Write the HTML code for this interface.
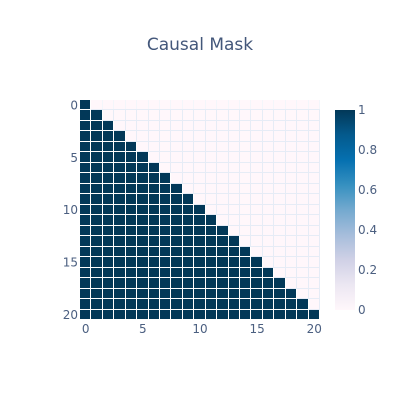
<!DOCTYPE html>
<html>
<head>
<meta charset="utf-8">
<title>Causal Mask</title>
<style>
html,body{margin:0;padding:0;background:#fff;}
svg{display:block;}
text{font-family:"DejaVu Sans","Liberation Sans",sans-serif;}
</style>
</head>
<body>
<svg id="chart" xmlns="http://www.w3.org/2000/svg" width="400" height="400" viewBox="0 0 400 400">
<rect x="0" y="0" width="400" height="400" fill="#ffffff"/>
<text x="200" y="50" text-anchor="middle" font-size="17" fill="#43577a">Causal Mask</text>
</svg>
<script>
var xCategories = [0,1,2,3,4,5,6,7,8,9,10,11,12,13,14,15,16,17,18,19,20];
var yCategories = [0,1,2,3,4,5,6,7,8,9,10,11,12,13,14,15,16,17,18,19,20];
var maskRows = [
[1,0,0,0,0,0,0,0,0,0,0,0,0,0,0,0,0,0,0,0,0],
[1,1,0,0,0,0,0,0,0,0,0,0,0,0,0,0,0,0,0,0,0],
[1,1,1,0,0,0,0,0,0,0,0,0,0,0,0,0,0,0,0,0,0],
[1,1,1,1,0,0,0,0,0,0,0,0,0,0,0,0,0,0,0,0,0],
[1,1,1,1,1,0,0,0,0,0,0,0,0,0,0,0,0,0,0,0,0],
[1,1,1,1,1,1,0,0,0,0,0,0,0,0,0,0,0,0,0,0,0],
[1,1,1,1,1,1,1,0,0,0,0,0,0,0,0,0,0,0,0,0,0],
[1,1,1,1,1,1,1,1,0,0,0,0,0,0,0,0,0,0,0,0,0],
[1,1,1,1,1,1,1,1,1,0,0,0,0,0,0,0,0,0,0,0,0],
[1,1,1,1,1,1,1,1,1,1,0,0,0,0,0,0,0,0,0,0,0],
[1,1,1,1,1,1,1,1,1,1,1,0,0,0,0,0,0,0,0,0,0],
[1,1,1,1,1,1,1,1,1,1,1,1,0,0,0,0,0,0,0,0,0],
[1,1,1,1,1,1,1,1,1,1,1,1,1,0,0,0,0,0,0,0,0],
[1,1,1,1,1,1,1,1,1,1,1,1,1,1,0,0,0,0,0,0,0],
[1,1,1,1,1,1,1,1,1,1,1,1,1,1,1,0,0,0,0,0,0],
[1,1,1,1,1,1,1,1,1,1,1,1,1,1,1,1,0,0,0,0,0],
[1,1,1,1,1,1,1,1,1,1,1,1,1,1,1,1,1,0,0,0,0],
[1,1,1,1,1,1,1,1,1,1,1,1,1,1,1,1,1,1,0,0,0],
[1,1,1,1,1,1,1,1,1,1,1,1,1,1,1,1,1,1,1,0,0],
[1,1,1,1,1,1,1,1,1,1,1,1,1,1,1,1,1,1,1,1,0],
[1,1,1,1,1,1,1,1,1,1,1,1,1,1,1,1,1,1,1,1,1]
];
var xTickLabels = [0,5,10,15,20];
var yTickLabels = [0,5,10,15,20];
var colorbarTickLabels = [0,0.2,0.4,0.6,0.8,1];
var colorStops = ["#fff7fb","#ece7f2","#d0d1e6","#a6bddb","#74a9cf","#3690c0","#0570b0","#045a8d","#023858"];

var svgNS = "http://www.w3.org/2000/svg";
var chart = document.getElementById("chart");
var plotLeft = 80, plotRight = 320, plotTop = 100, plotBottom = 320;
var barLeft = 335, barRight = 355, barTop = 110, barBottom = 310;
var tickColor = "#4b5f80";
var gridColor = "#e6ecf6";

function make(tag, attrs, parent) {
  var el = document.createElementNS(svgNS, tag);
  for (var k in attrs) el.setAttribute(k, attrs[k]);
  (parent || chart).appendChild(el);
  return el;
}
function xEdge(i) { return plotLeft + i * (plotRight - plotLeft) / xCategories.length; }
function yEdge(i) { return plotTop + i * (plotBottom - plotTop) / yCategories.length; }
function xCenter(v) { return xEdge(xCategories.indexOf(v) + 0.5); }
function yCenter(v) { return yEdge(yCategories.indexOf(v) + 0.5); }
function barY(v) { return barBottom - (v - 0) / (1 - 0) * (barBottom - barTop); }
function hexToRgb(h) { return [parseInt(h.substr(1,2),16), parseInt(h.substr(3,2),16), parseInt(h.substr(5,2),16)]; }
function colorFor(v) {
  var t = Math.max(0, Math.min(1, v)) * (colorStops.length - 1);
  var i = Math.min(Math.floor(t), colorStops.length - 2);
  var a = hexToRgb(colorStops[i]), b = hexToRgb(colorStops[i + 1]), f = t - i;
  return "rgb(" + [0,1,2].map(function (c) { return Math.round(a[c] + (b[c] - a[c]) * f); }).join(",") + ")";
}

var gridGroup = make("g", { "shape-rendering": "crispEdges" });


var heatmap = make("g", { "shape-rendering": "crispEdges" });



maskRows.forEach(function (row, r) {
  row.forEach(function (value, c) {
    var x0 = Math.round(xEdge(c)), x1 = Math.round(xEdge(c + 1)) - 1;
    var y0 = Math.round(yEdge(r)), y1 = Math.round(yEdge(r + 1)) - 1;
    var cell = make("rect", { x: x0, y: y0, width: x1 - x0, height: y1 - y0, fill: colorFor(value) }, heatmap);
    
    
    if (value < 0.5) {
      var gapV = make("rect", { x: x1, y: y0, width: 1, height: y1 - y0 + 1, fill: r === 0 ? "#f3f6fb" : gridColor }, gridGroup);
      
      
      var gapH = make("rect", { x: x0, y: y1, width: x1 - x0 + 1, height: 1, fill: gridColor }, gridGroup);
      
      
    }
  });
});

xTickLabels.forEach(function (v) {
  var t = make("text", { x: xCenter(v), y: 333, "text-anchor": "middle", "font-size": 12, fill: tickColor });
  t.textContent = v;
  
  
});
yTickLabels.forEach(function (v) {
  var t = make("text", { x: 78, y: yCenter(v) + 4.2, "text-anchor": "end", "font-size": 12, fill: tickColor });
  t.textContent = v;
  
  
});

var defs = make("defs", {});
var gradient = make("linearGradient", { id: "colorbar-gradient", x1: 0, y1: 1, x2: 0, y2: 0 }, defs);
colorStops.forEach(function (c, i) {
  make("stop", { offset: i / (colorStops.length - 1), "stop-color": c }, gradient);
});
var bar = make("rect", { x: barLeft, y: barTop, width: barRight - barLeft, height: barBottom - barTop, fill: "url(#colorbar-gradient)" });


colorbarTickLabels.forEach(function (v) {
  var t = make("text", { x: 358, y: barY(v) + 4.2, "text-anchor": "start", "font-size": 12, fill: tickColor });
  t.textContent = v;
  
  
});
</script>
</body>
</html>
